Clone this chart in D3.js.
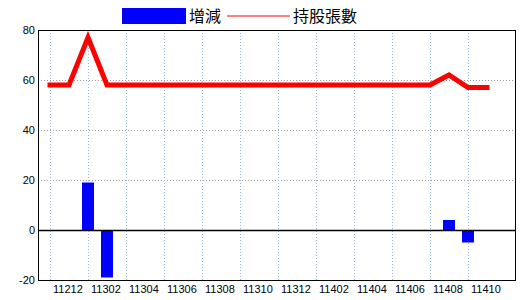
<!DOCTYPE html>
<html>
<head>
<meta charset="utf-8">
<script src="https://cdn.jsdelivr.net/npm/d3@7"></script>
<style>
    body { margin: 0; background: #fff; }
    svg { display: block; }
</style>
</head>
<body>
<div id="chart"></div>
<script>
// months (ROC year + month)
var months = ['11212', '11301', '11302', '11303', '11304', '11305', '11306', '11307', '11308', '11309', '11310', '11311', '11312',
    '11401', '11402', '11403', '11404', '11405', '11406', '11407', '11408', '11409', '11410', '11411'];
var changes = [0, 0, 19, -19, 0, 0, 0, 0, 0, 0, 0, 0, 0, 0, 0, 0, 0, 0, 0, 0, 0, 4, -5, 0];
var holdings = [58, 58, 77, 58, 58, 58, 58, 58, 58, 58, 58, 58, 58, 58, 58, 58, 58, 58, 58, 58, 58, 62, 57, 57];
var xLabels = ['11212', '11302', '11304', '11306', '11308', '11310', '11312', '11402', '11404', '11406', '11408', '11410'];
var yTicks = [-20, 0, 20, 40, 60, 80];

function drawChart() {
    var svg = d3.select('#chart').append('svg')
        .attr('width', 520)
        .attr('height', 300);

    var pLeft = 38, pRight = 515, pTop = 30, pBottom = 280;

    var x = d3.scalePoint().domain(months).range([50, 487]);
    var y = d3.scaleLinear().domain([-20, 80]).range([pBottom, pTop]);

    // horizontal grid
    svg.append('g')
        .selectAll('line')
        .data(yTicks.filter(function(d) { return d > 0 && d < 80; }))
        .enter()
        .append('line')
        .attr('x1', pLeft)
        .attr('x2', pRight)
        .attr('y1', function(d) { return y(d) + 0.5; })
        .attr('y2', function(d) { return y(d) + 0.5; })
        .attr('stroke', '#999')
        .attr('stroke-dasharray', '1,2');

    // vertical grid
    svg.append('g')
        .selectAll('line')
        .data(xLabels)
        .enter()
        .append('line')
        .attr('x1', function(d) { return x(d) + 0.5; })
        .attr('x2', function(d) { return x(d) + 0.5; })
        .attr('y1', pTop)
        .attr('y2', pBottom)
        .attr('stroke', '#8fbfdc')
        .attr('stroke-dasharray', '1,2');

    // bars
    svg.append('g')
        .selectAll('rect')
        .data(months.map(function(m, i) { return { m: m, v: changes[i] }; }).filter(function(d) { return d.v !== 0; }))
        .enter()
        .append('rect')
        .attr('x', function(d) { return x(d.m) - 6; })
        .attr('y', function(d) { return y(Math.max(0, d.v)); })
        .attr('width', 12)
        .attr('height', function(d) { return Math.abs(y(d.v) - y(0)); })
        .attr('fill', '#0000ff');

    // zero line
    svg.append('line')
        .attr('x1', pLeft)
        .attr('x2', pRight)
        .attr('y1', y(0) + 0.5)
        .attr('y2', y(0) + 0.5)
        .attr('stroke', '#000')
        .attr('stroke-width', 1.5);

    // holdings line
    var line = d3.line()
        .x(function(d, i) { return x(months[i]); })
        .y(function(d) { return y(d); });

    svg.append('path')
        .datum(holdings)
        .attr('d', line)
        .attr('fill', 'none')
        .attr('stroke', '#ff0000')
        .attr('stroke-width', 5)
        .attr('stroke-linecap', 'square');

    // frame
    svg.append('rect')
        .attr('x', pLeft + 0.5)
        .attr('y', pTop + 0.5)
        .attr('width', pRight - pLeft)
        .attr('height', pBottom - pTop)
        .attr('fill', 'none')
        .attr('stroke', '#000');

    // y labels
    svg.append('g')
        .selectAll('text')
        .data(yTicks)
        .enter()
        .append('text')
        .attr('x', 35)
        .attr('y', function(d) { return y(d) + 4; })
        .attr('text-anchor', 'end')
        .style('font', '11px "Liberation Sans", Arial, sans-serif')
        .text(function(d) { return d; });

    // x labels
    svg.append('g')
        .selectAll('text')
        .data(xLabels)
        .enter()
        .append('text')
        .attr('x', function(d) { return x(d) + 3; })
        .attr('y', 293)
        .style('font', '11px "Liberation Sans", Arial, sans-serif')
        .text(function(d) { return d; });

    // legend
    var legend = svg.append('g');
    legend.append('rect')
        .attr('x', 122).attr('y', 8)
        .attr('width', 64).attr('height', 16)
        .attr('fill', '#0000ff');
    legend.append('text')
        .attr('x', 189).attr('y', 22)
        .style('font', '16px "Noto Sans CJK TC", sans-serif')
        .text('增減');
    legend.append('line')
        .attr('x1', 227).attr('x2', 290)
        .attr('y1', 16).attr('y2', 16)
        .attr('stroke', '#ff0000')
        .attr('stroke-width', 1);
    legend.append('text')
        .attr('x', 293).attr('y', 22)
        .style('font', '16px "Noto Sans CJK TC", sans-serif')
        .text('持股張數');
}

drawChart();
</script>
</body>
</html>
